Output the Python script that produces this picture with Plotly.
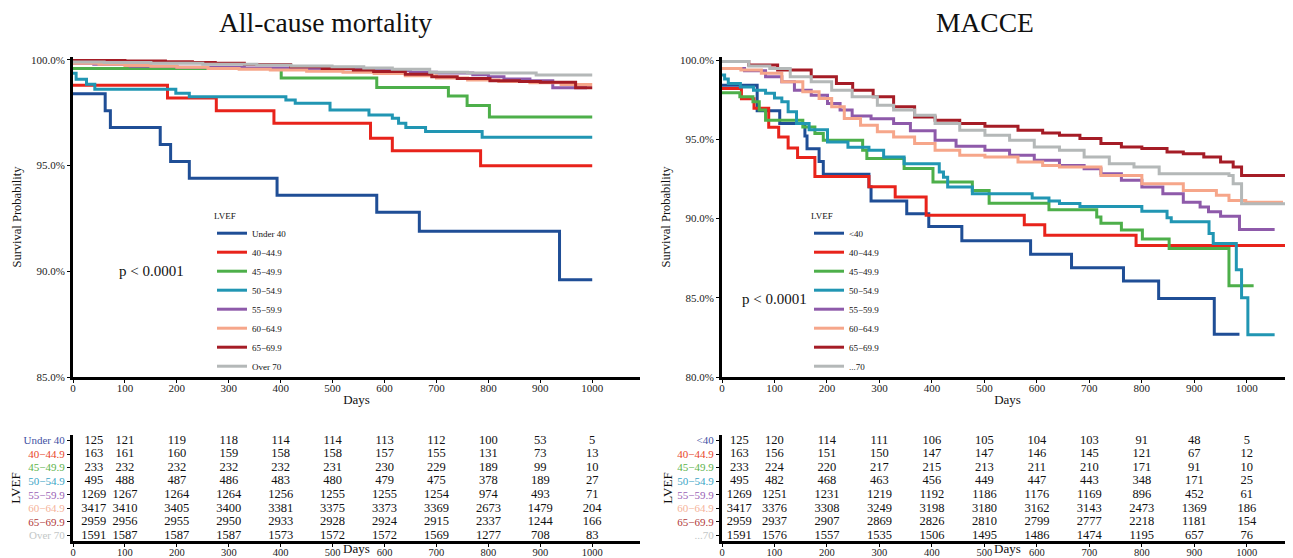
import plotly.graph_objects as go

# The page body adds an 8 px margin around the figure; the figure fills the rest
OFF = 8
W, H = 1293 - OFF, 558 - OFF
FONT = "Liberation Serif, Times New Roman, serif"

# ---------------- data ----------------
groups_left = ["Under 40", "40\u221244.9", "45\u221249.9", "50\u221254.9",
               "55\u221259.9", "60\u221264.9", "65\u221269.9", "Over 70"]
groups_right = ["<40", "40\u221244.9", "45\u221249.9", "50\u221254.9",
                "55\u221259.9", "60\u221264.9", "65\u221269.9", "...70"]
colors = ["#1F4E96", "#E8231B", "#4DAF4A", "#2196B3",
          "#8E5AAA", "#F6A68A", "#A51C26", "#B4B8B8"]
label_colors = ["#3F51A3", "#E8452B", "#5DB34B", "#3AA5C6",
                "#9A62B5", "#F5B39A", "#B13A3A", "#C3C7C7"]

# All-cause mortality (days, survival %)
ac_u40_t = [0, 62, 72, 168, 188, 224, 393, 585, 667, 937]
ac_u40_s = [98.4, 97.6, 96.8, 96.0, 95.2, 94.4, 93.6, 92.8, 91.9, 89.6]
ac_u40_end = 1000
ac_40_t = [0, 182, 276, 387, 573, 615, 785]
ac_40_s = [98.8, 98.2, 97.6, 97.0, 96.3, 95.7, 95.0]
ac_40_end = 1000
ac_45_t = [0, 401, 585, 723, 759, 802]
ac_45_s = [99.6, 99.15, 98.7, 98.3, 97.85, 97.3]
ac_45_end = 1000
ac_50_t = [0, 6, 26, 42, 198, 224, 410, 428, 495, 570, 615, 627, 641, 679, 788]
ac_50_s = [99.37, 99.09, 98.85, 98.61, 98.42, 98.26, 98.11, 97.95, 97.63,
           97.4, 97.24, 97.0, 96.81, 96.61, 96.34]
ac_50_end = 1000
ac_55_t = [0, 40, 110, 200, 330, 450, 560, 650, 700, 770, 800, 830, 880, 924]
ac_55_s = [99.85, 99.8, 99.7, 99.66, 99.62, 99.58, 99.5, 99.42, 99.38, 99.3,
           99.2, 99.1, 99.02, 98.68]
ac_55_end = 990
ac_60_t = [0, 50, 100, 150, 200, 260, 320, 380, 450, 520, 580, 640, 700, 760,
           820, 880, 940]
ac_60_s = [99.85, 99.8, 99.74, 99.7, 99.66, 99.6, 99.56, 99.52, 99.47, 99.42,
           99.36, 99.25, 99.15, 99.05, 98.98, 98.92, 98.84]
ac_60_end = 1000
ac_65_t = [0, 100, 178, 230, 274, 330, 419, 480, 540, 579, 640, 691, 740, 803,
           860, 900, 968]
ac_65_s = [99.97, 99.95, 99.92, 99.88, 99.84, 99.78, 99.68, 99.6, 99.52, 99.45,
           99.32, 99.21, 99.12, 99.02, 98.98, 98.94, 98.69]
ac_65_end = 1000
ac_70_t = [0, 60, 150, 250, 354, 420, 499, 560, 615, 687, 760, 892]
ac_70_s = [99.9, 99.88, 99.85, 99.8, 99.76, 99.72, 99.68, 99.62, 99.56, 99.42,
           99.38, 99.29]
ac_70_end = 1000

# MACCE (days, survival %)
mc_u40_t = [0, 67, 110, 158, 162, 185, 193, 280, 284, 352, 394, 457, 588, 666,
            765, 832, 938]
mc_u40_s = [98.4, 96.8, 96.0, 95.2, 94.4, 93.6, 92.8, 92.0, 91.1, 90.3, 89.5,
            88.6, 87.75, 86.9, 86.05, 84.95, 82.7]
mc_u40_end = 986
mc_40_t = [0, 37, 61, 89, 108, 126, 144, 177, 280, 330, 389, 576, 615, 789]
mc_40_s = [98.2, 97.55, 96.95, 95.75, 95.15, 94.45, 93.85, 92.65, 92.0, 91.35,
           90.2, 89.6, 88.95, 88.3]
mc_40_end = 1084
mc_45_t = [0, 34, 59, 71, 83, 154, 177, 193, 268, 276, 347, 402, 477, 509, 623,
           714, 722, 761, 801, 852, 966]
mc_45_s = [97.93, 97.68, 97.36, 96.84, 96.2, 95.78, 95.36, 94.94, 94.3, 93.78,
           93.16, 92.3, 91.77, 90.97, 90.56, 90.1, 89.7, 89.27, 88.7, 88.1, 85.75]
mc_45_end = 1013
mc_50_t = [0, 5, 12, 35, 60, 83, 100, 114, 126, 142, 166, 201, 240, 280, 308,
           347, 414, 422, 430, 477, 591, 623, 643, 682, 800, 848, 856, 928, 936,
           980, 990, 1002]
mc_50_s = [99.05, 98.8, 98.52, 98.3, 98.1, 97.9, 97.6, 97.36, 96.73, 96.0, 95.6,
           94.83, 94.5, 94.3, 93.88, 93.46, 92.93, 92.6, 91.98, 91.56, 91.3, 91.1,
           90.95, 90.75, 90.45, 90.05, 89.8, 89.06, 88.43, 86.76, 85.0, 82.66]
mc_50_end = 1053
mc_55_t = [0, 43, 83, 114, 138, 170, 201, 225, 248, 284, 327, 359, 406, 446, 501,
           548, 595, 643, 690, 722, 761, 800, 840, 879, 911, 927, 950, 986]
mc_55_s = [99.47, 99.32, 98.95, 98.63, 98.1, 97.78, 97.26, 96.84, 96.46, 96.3,
           95.99, 95.53, 94.94, 94.56, 94.3, 93.99, 93.67, 93.35, 93.14, 92.83,
           92.41, 91.98, 91.56, 91.03, 90.73, 90.42, 90.15, 89.31]
mc_55_end = 1053
mc_60_t = [0, 36, 75, 114, 154, 185, 209, 233, 264, 296, 327, 367, 406, 453, 501,
           564, 611, 643, 722, 800, 879, 942, 966, 998]
mc_60_s = [99.47, 99.37, 99.16, 98.63, 98.0, 97.57, 97.05, 96.31, 95.89, 95.47,
           95.15, 94.73, 94.3, 93.99, 93.88, 93.57, 93.35, 93.25, 92.72, 92.2,
           91.77, 91.46, 91.14, 91.03]
mc_60_end = 1069
mc_65_t = [0, 51, 106, 170, 218, 249, 288, 327, 367, 406, 453, 501, 564, 611,
           643, 682, 722, 761, 800, 848, 879, 918, 950, 974, 990]
mc_65_s = [99.9, 99.68, 99.37, 98.95, 98.52, 98.1, 97.68, 97.05, 96.41, 96.2,
           95.99, 95.82, 95.57, 95.4, 95.25, 95.04, 94.73, 94.51, 94.41, 94.2,
           94.09, 93.88, 93.57, 93.25, 92.72]
mc_65_end = 1080
mc_70_t = [0, 51, 91, 130, 170, 209, 248, 296, 327, 367, 406, 453, 501, 548, 595,
           643, 690, 738, 785, 833, 966, 974, 990]
mc_70_s = [99.9, 99.62, 99.47, 98.95, 98.63, 98.1, 97.68, 97.15, 96.84, 96.52,
           96.0, 95.57, 95.25, 94.94, 94.51, 94.3, 93.88, 93.46, 93.25, 92.83,
           92.72, 92.2, 90.93]
mc_70_end = 1090

# Number at risk
risk_times = [0, 100, 200, 300, 400, 500, 600, 700, 800, 900, 1000]
ac_risk = [
    [125, 121, 119, 118, 114, 114, 113, 112, 100, 53, 5],
    [163, 161, 160, 159, 158, 158, 157, 155, 131, 73, 13],
    [233, 232, 232, 232, 232, 231, 230, 229, 189, 99, 10],
    [495, 488, 487, 486, 483, 480, 479, 475, 378, 189, 27],
    [1269, 1267, 1264, 1264, 1256, 1255, 1255, 1254, 974, 493, 71],
    [3417, 3410, 3405, 3400, 3381, 3375, 3373, 3369, 2673, 1479, 204],
    [2959, 2956, 2955, 2950, 2933, 2928, 2924, 2915, 2337, 1244, 166],
    [1591, 1587, 1587, 1587, 1573, 1572, 1572, 1569, 1277, 708, 83],
]
mc_risk = [
    [125, 120, 114, 111, 106, 105, 104, 103, 91, 48, 5],
    [163, 156, 151, 150, 147, 147, 146, 145, 121, 67, 12],
    [233, 224, 220, 217, 215, 213, 211, 210, 171, 91, 10],
    [495, 482, 468, 463, 456, 449, 447, 443, 348, 171, 25],
    [1269, 1251, 1231, 1219, 1192, 1186, 1176, 1169, 896, 452, 61],
    [3417, 3376, 3308, 3249, 3198, 3180, 3162, 3143, 2473, 1369, 186],
    [2959, 2937, 2907, 2869, 2826, 2810, 2799, 2777, 2218, 1181, 154],
    [1591, 1576, 1557, 1535, 1506, 1495, 1486, 1474, 1195, 657, 76],
]
ac_yticks = [85, 90, 95, 100]
mc_yticks = [80, 85, 90, 95, 100]
x_ticks = [0, 100, 200, 300, 400, 500, 600, 700, 800, 900, 1000]

ac_curves = [(ac_u40_t, ac_u40_s, ac_u40_end), (ac_40_t, ac_40_s, ac_40_end),
             (ac_45_t, ac_45_s, ac_45_end), (ac_50_t, ac_50_s, ac_50_end),
             (ac_55_t, ac_55_s, ac_55_end), (ac_60_t, ac_60_s, ac_60_end),
             (ac_65_t, ac_65_s, ac_65_end), (ac_70_t, ac_70_s, ac_70_end)]
mc_curves = [(mc_u40_t, mc_u40_s, mc_u40_end), (mc_40_t, mc_40_s, mc_40_end),
             (mc_45_t, mc_45_s, mc_45_end), (mc_50_t, mc_50_s, mc_50_end),
             (mc_55_t, mc_55_s, mc_55_end), (mc_60_t, mc_60_s, mc_60_end),
             (mc_65_t, mc_65_s, mc_65_end), (mc_70_t, mc_70_s, mc_70_end)]

# ---------------- figure ----------------
fig = go.Figure()


def add_curves(curves, names, xa, ya, legend):
    for i, (t, s, end) in enumerate(curves):
        fig.add_trace(go.Scatter(
            x=list(t) + [end], y=list(s) + [s[-1]], mode="lines",
            line=dict(color=colors[i], width=3, shape="hv"),
            name=names[i], xaxis=xa, yaxis=ya, legend=legend,
            hovertemplate="%{x}: %{y:.1f}%<extra>" + names[i] + "</extra>"))


def add_risk(risk, xa, ya, first_x):
    n = len(risk)
    for i, row in enumerate(risk):
        xs = [t if t > 0 else first_x for t in risk_times]
        fig.add_trace(go.Scatter(
            x=xs, y=[n - 1 - i] * len(xs), mode="text",
            text=[str(v) for v in row], textposition="middle center",
            textfont=dict(family=FONT, size=12.5, color="#111"),
            showlegend=False, hoverinfo="skip", xaxis=xa, yaxis=ya))


add_curves(ac_curves, groups_left, "x", "y", "legend")
add_risk(ac_risk, "x2", "y2", 40)
add_curves(mc_curves, groups_right, "x3", "y3", "legend2")
add_risk(mc_risk, "x4", "y4", 33)


def px_x(p):
    return (p - OFF) / W


def px_y(p):
    return 1 - (p - OFF) / H


axis_common = dict(showline=True, linecolor="black", linewidth=3,
                   ticks="outside", ticklen=3, tickwidth=1, tickcolor="black",
                   showgrid=False, zeroline=False, automargin=False,
                   tickfont=dict(family=FONT, size=11, color="#222"))
xaxis_common = {**axis_common, "ticklabelstandoff": -4}
title_font = dict(family=FONT, size=13, color="#111")
ytitle_font = dict(family=FONT, size=12.5, color="#111")
tab_xtick_font = dict(family=FONT, size=10.5, color="#222")

main_ydom = [px_y(377), px_y(57)]
tab_ydom = [px_y(541), px_y(435)]
left_xdom = [px_x(73), px_x(640)]
right_xdom = [px_x(722), 1.0]


def row_labels(names):
    return [f"<span style='color:{label_colors[i]}'>{names[i]}</span>"
            for i in range(len(names))][::-1]


def pct(vals):
    return [f"{v:.1f}%" for v in vals]


fig.update_layout(
    width=W, height=H, margin=dict(l=0, r=0, t=0, b=0, autoexpand=False),
    paper_bgcolor="white", plot_bgcolor="white",
    font=dict(family=FONT, color="#111"),
    xaxis=dict(domain=left_xdom, range=[0, 1092], anchor="y", tickvals=x_ticks,
               title=dict(text="Days", font=title_font, standoff=2), **xaxis_common),
    yaxis=dict(domain=main_ydom, range=[85, 100.14], anchor="x",
               tickvals=ac_yticks, ticktext=pct(ac_yticks),
               title=dict(text="Survival Probability", font=ytitle_font, standoff=7),
               **axis_common),
    xaxis2=dict(domain=left_xdom, range=[0, 1092], anchor="y2", tickvals=x_ticks,
                **{**xaxis_common, "tickfont": tab_xtick_font}),
    yaxis2=dict(domain=tab_ydom, range=[-0.4, 7.4], anchor="x2",
                tickvals=list(range(8)), ticktext=row_labels(groups_left),
                title=dict(text="LVEF", font=title_font, standoff=4),
                **{**axis_common, "tickfont": dict(family=FONT, size=11)}),
    xaxis3=dict(domain=right_xdom, range=[0, 1088], anchor="y3", tickvals=x_ticks,
                title=dict(text="Days", font=title_font, standoff=2), **xaxis_common),
    yaxis3=dict(domain=main_ydom, range=[80, 100.19], anchor="x3",
                tickvals=mc_yticks, ticktext=pct(mc_yticks),
                title=dict(text="Survival Probability", font=ytitle_font, standoff=7),
                **axis_common),
    xaxis4=dict(domain=right_xdom, range=[0, 1088], anchor="y4", tickvals=x_ticks,
                **{**xaxis_common, "tickfont": tab_xtick_font}),
    yaxis4=dict(domain=tab_ydom, range=[-0.4, 7.4], anchor="x4",
                tickvals=list(range(8)), ticktext=row_labels(groups_right),
                title=dict(text="LVEF", font=title_font, standoff=2),
                **{**axis_common, "tickfont": dict(family=FONT, size=11)}),
    legend=dict(x=px_x(212), y=px_y(207), xanchor="left", yanchor="top",
                bgcolor="rgba(0,0,0,0)", font=dict(family=FONT, size=9),
                title=dict(text="LVEF", font=dict(family=FONT, size=9)),
                itemwidth=30),
    legend2=dict(x=px_x(809), y=px_y(207), xanchor="left", yanchor="top",
                 bgcolor="rgba(0,0,0,0)", font=dict(family=FONT, size=9),
                 title=dict(text="LVEF", font=dict(family=FONT, size=9)),
                 itemwidth=30),
    annotations=[
        dict(text="All-cause mortality", x=px_x(325), y=px_y(22), xref="paper",
             yref="paper", xanchor="center", yanchor="middle", showarrow=False,
             font=dict(family=FONT, size=27.5, color="#111")),
        dict(text="MACCE", x=px_x(985), y=px_y(22), xref="paper", yref="paper",
             xanchor="center", yanchor="middle", showarrow=False,
             font=dict(family=FONT, size=27.5, color="#111")),
        dict(text="p < 0.0001", x=152, y=90.0, xref="x", yref="y", showarrow=False,
             xanchor="center", yanchor="middle",
             font=dict(family=FONT, size=15, color="#111")),
        dict(text="p < 0.0001", x=100, y=84.9, xref="x3", yref="y3", showarrow=False,
             xanchor="center", yanchor="middle",
             font=dict(family=FONT, size=15, color="#111")),
        dict(text="Days", x=(left_xdom[0] + left_xdom[1]) / 2, y=0, xref="paper",
             yref="paper", xanchor="center", yanchor="bottom", showarrow=False,
             font=title_font),
        dict(text="Days", x=(right_xdom[0] + right_xdom[1]) / 2, y=0, xref="paper",
             yref="paper", xanchor="center", yanchor="bottom", showarrow=False,
             font=title_font),
    ],
)

fig.write_html("out.html")
